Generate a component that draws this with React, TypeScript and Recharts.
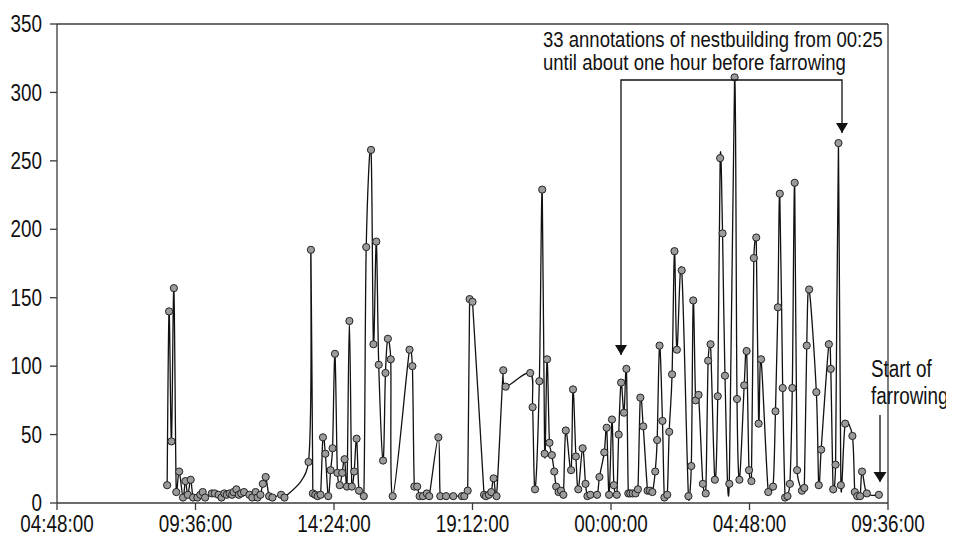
import React from "react"
import {
  LineChart,
  Line,
  XAxis,
  YAxis,
  ReferenceLine,
} from "recharts"

// clock times of each observation (the series runs past midnight into the next day)
const times = [
  "08:37", "08:41", "08:46", "08:51", "08:56", "09:02", "09:10", "09:15", "09:20", "09:26",
  "09:31", "09:40", "09:46", "09:51", "09:56", "10:10", "10:16", "10:24", "10:30", "10:36",
  "10:41", "10:47", "10:52", "10:55", "11:01", "11:06", "11:11", "11:17", "11:28", "11:34",
  "11:41", "11:45", "11:51", "11:56", "12:02", "12:09", "12:16", "12:34", "12:41", "13:31",
  "13:36", "13:40", "13:45", "13:50", "13:56", "14:01", "14:06", "14:12", "14:17", "14:21",
  "14:26", "14:31", "14:36", "14:41", "14:46", "14:51", "14:56", "15:01", "15:06", "15:11",
  "15:16", "15:26", "15:31", "15:41", "15:46", "15:52", "15:57", "16:06", "16:11", "16:16",
  "16:22", "16:26", "17:01", "17:07", "17:11", "17:17", "17:22", "17:29", "17:37", "17:42",
  "18:01", "18:05", "18:17", "18:32", "18:50", "18:55", "19:02", "19:06", "19:12", "19:36",
  "19:40", "19:46", "19:51", "19:56", "20:02", "20:16", "20:21", "21:12", "21:17", "21:22",
  "21:31", "21:37", "21:42", "21:47", "21:52", "21:57", "22:02", "22:06", "22:11", "22:16",
  "22:21", "22:26", "22:37", "22:41", "22:47", "22:52", "23:01", "23:07", "23:11", "23:17",
  "23:31", "23:36", "23:46", "23:51", "23:56", "00:02", "00:06", "00:12", "00:16", "00:21",
  "00:27", "00:32", "00:36", "00:40", "00:45", "00:51", "00:56", "01:01", "01:07", "01:16",
  "01:21", "01:26", "01:32", "01:36", "01:41", "01:47", "01:51", "01:57", "02:01", "02:07",
  "02:12", "02:17", "02:27", "02:41", "02:47", "02:51", "02:56", "03:02", "03:11", "03:17",
  "03:22", "03:27", "03:36", "03:42", "03:47", "03:52", "03:57", "04:06", "04:17", "04:22",
  "04:27", "04:37", "04:42", "04:47", "04:52", "04:57", "05:02", "05:07", "05:12", "05:27",
  "05:37", "05:42", "05:47", "05:51", "05:57", "06:02", "06:07", "06:12", "06:17", "06:22",
  "06:27", "06:37", "06:42", "06:47", "06:52", "07:07", "07:12", "07:17", "07:33", "07:37",
  "07:42", "07:47", "07:53", "07:58", "08:07", "08:22", "08:27", "08:32", "08:38", "08:42",
  "08:52", "09:17",
]

const values = [
  13, 140, 45, 157, 8, 23, 4, 16, 6, 17,
  4, 4, 6, 8, 4, 7, 7, 6, 4, 7,
  6, 7, 6, 8, 10, 6, 7, 8, 6, 4,
  8, 4, 6, 14, 19, 5, 4, 6, 4, 30,
  185, 7, 6, 5, 6, 48, 36, 5, 24, 40,
  109, 22, 13, 22, 32, 12, 133, 12, 23, 47,
  9, 5, 187, 258, 116, 191, 101, 31, 95, 120,
  105, 5, 112, 100, 12, 12, 5, 5, 7, 5,
  48, 5, 5, 5, 5, 5, 9, 149, 147, 6,
  5, 6, 8, 18, 5, 97, 85, 95, 70, 10,
  89, 229, 36, 105, 44, 35, 23, 12, 8, 9,
  6, 53, 24, 83, 34, 10, 40, 14, 5, 6,
  6, 19, 37, 55, 6, 61, 13, 6, 50, 88,
  66, 98, 7, 7, 7, 7, 10, 77, 56, 9,
  9, 8, 23, 46, 115, 60, 4, 6, 52, 94,
  184, 112, 170, 5, 27, 148, 75, 79, 14, 7,
  104, 116, 17, 78, 252, 197, 93, 14, 311, 76,
  17, 86, 111, 24, 16, 179, 194, 58, 105, 8,
  12, 67, 143, 226, 84, 4, 5, 14, 84, 234,
  24, 9, 11, 115, 156, 81, 13, 39, 116, 98,
  10, 28, 263, 13, 58, 49, 8, 5, 5, 23,
  7, 6,
]

const xTickLabels = ["04:48:00", "09:36:00", "14:24:00", "19:12:00", "00:00:00", "04:48:00", "09:36:00"]
const yTicks = [0, 50, 100, 150, 200, 250, 300, 350]

const annotationLines = [
  "33 annotations of nestbuilding from 00:25",
  "until about one hour before farrowing",
]
const farrowingLines = ["Start of", "farrowing"]

// clock strings -> running hours, adding a day whenever the clock wraps
function toHours(list: string[]) {
  let day = 0
  let prev = -1
  return list.map((t) => {
    const [h, m, s] = t.split(":").map(Number)
    const v = h + m / 60 + (s || 0) / 3600
    if (v < prev) day += 24
    prev = v
    return v + day
  })
}

const xHours = toHours(times)
const xTicks = toHours(xTickLabels)

const chartData = xHours.map((x, i) => ({ x, value: values[i] }))

const fmtTime = (h: number) => {
  const mins = Math.round(h * 60) % 1440
  const hh = String(Math.floor(mins / 60)).padStart(2, "0")
  const mm = String(mins % 60).padStart(2, "0")
  return `${hh}:${mm}:00`
}

const dist = (a: number[], b: number[]) => Math.hypot(a[0] - b[0], a[1] - b[1])

// Excel-style smoothed line: Catmull-Rom tangents, with control arms capped
// at half of the segment so long jumps don't overshoot much
function smoothCurve(context: any) {
  let pts: number[][] = []
  return {
    areaStart() {},
    areaEnd() {},
    lineStart() {
      pts = []
    },
    point(x: number, y: number) {
      pts.push([+x, +y])
    },
    lineEnd() {
      const n = pts.length
      if (!n) return
      context.moveTo(pts[0][0], pts[0][1])
      for (let i = 0; i < n - 1; i++) {
        const p0 = pts[Math.max(i - 1, 0)]
        const p1 = pts[i]
        const p2 = pts[i + 1]
        const p3 = pts[Math.min(i + 2, n - 1)]
        const d12 = dist(p1, p2)
        const d02 = dist(p0, p2) || 1
        const d13 = dist(p1, p3) || 1
        const f1 = Math.min(1 / 6, d12 / (2 * d02))
        const f2 = Math.min(1 / 6, d12 / (2 * d13))
        context.bezierCurveTo(
          p1[0] + (p2[0] - p0[0]) * f1,
          p1[1] + (p2[1] - p0[1]) * f1,
          p2[0] - (p3[0] - p1[0]) * f2,
          p2[1] - (p3[1] - p1[1]) * f2,
          p2[0],
          p2[1]
        )
      }
    },
  }
}

const FONT = '"Liberation Sans", Arial, sans-serif'
const NARROW = 0.82
const AXIS = "#3a3a3a"
const FS = 23

// condensed text (Arial Narrow look) by squeezing a regular sans horizontally
function NarrowText({ x, y, anchor, dy, size = FS, children }: any) {
  return (
    <text
      transform={`translate(${x},${y}) scale(${NARROW},1)`}
      textAnchor={anchor}
      dy={dy}
      fontFamily={FONT}
      fontSize={size}
      fill="#111"
    >
      {children}
    </text>
  )
}

const XTick = ({ x, y, payload }: any) => (
  <NarrowText x={x} y={y} anchor="middle" dy="0.71em">
    {fmtTime(payload.value)}
  </NarrowText>
)

const YTick = ({ x, y, payload }: any) => (
  <NarrowText x={x} y={y} anchor="end" dy="0.355em">
    {payload.value}
  </NarrowText>
)

export default function App() {
  return (
    <div style={{ position: "relative", width: 938, height: 527 }}>
      <LineChart
        width={938}
        height={535}
        data={chartData}
        margin={{ top: 16, right: 58, bottom: 8, left: 0 }}
      >
        <XAxis
          dataKey="x"
          type="number"
          domain={[xTicks[0], xTicks[xTicks.length - 1]]}
          ticks={xTicks}
          height={32}
          tickSize={7}
          tickMargin={6}
          stroke={AXIS}
          strokeWidth={1.3}
          tick={<XTick />}
          interval={0}
        />
        <YAxis
          type="number"
          domain={[0, 350]}
          ticks={yTicks}
          width={49}
          tickSize={7}
          tickMargin={8}
          stroke={AXIS}
          strokeWidth={1.3}
          tick={<YTick />}
          interval={0}
        />
        <ReferenceLine y={350} stroke={AXIS} strokeWidth={1.3} />
        <ReferenceLine x={xTicks[xTicks.length - 1]} stroke={AXIS} strokeWidth={1.3} />
        <Line
          type={smoothCurve as any}
          dataKey="value"
          stroke="#111"
          strokeWidth={1.3}
          dot={{ r: 3.6, fill: "#9b9b9b", stroke: "#222", strokeWidth: 1 }}
          isAnimationActive={false}
        />
      </LineChart>
      <svg
        width={946}
        height={527}
        style={{ position: "absolute", left: 0, top: 0, pointerEvents: "none", overflow: "visible" }}
      >
        {annotationLines.map((t, i) => (
          <NarrowText key={t} x={535} y={39 + i * 23} anchor="start" size={22.6}>
            {t}
          </NarrowText>
        ))}
        {farrowingLines.map((t, i) => (
          <NarrowText key={t} x={863} y={369 + i * 27} anchor="start">
            {t}
          </NarrowText>
        ))}
        <g stroke="#111" strokeWidth={1.3} fill="none">
          <polyline points="613,347 613,72 834,72 834,125" />
          <line x1={872} y1={407} x2={872} y2={474} />
        </g>
        <g fill="#111">
          <polygon points="607,337 619,337 613,347" />
          <polygon points="828,115 840,115 834,125" />
          <polygon points="865.5,464 878.5,464 872,474" />
        </g>
      </svg>
    </div>
  )
}
